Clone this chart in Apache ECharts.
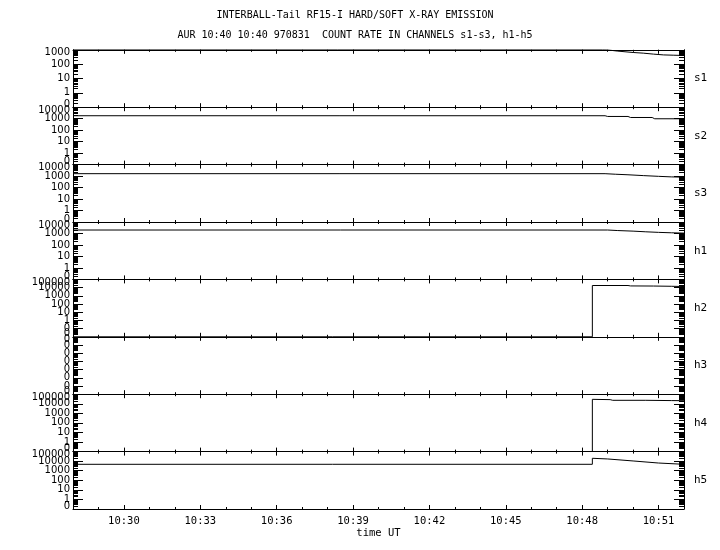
<!DOCTYPE html>
<html>
<head>
<meta charset="utf-8">
<script src="https://cdn.jsdelivr.net/npm/echarts@6/dist/echarts.min.js"></script>
<style>html,body{margin:0;padding:0;background:#fff}#c{width:720px;height:550px}</style>
</head>
<body>
<div id="c"></div>
<script>
// x values are minutes since 00:00 UT
const xMin = 628, xMax = 652;
const xMajorTicks = [630, 633, 636, 639, 642, 645, 648, 651];
const xMajorLabels = ['10:30', '10:33', '10:36', '10:39', '10:42', '10:45', '10:48', '10:51'];
const xMinorTicks = [628,629,630,631,632,633,634,635,636,637,638,639,640,641,642,643,644,645,646,647,648,649,650,651,652];

const channels = ['s1', 's2', 's3', 'h1', 'h2', 'h3', 'h4', 'h5'];

// y-axis decade ticks per channel
const s1Ticks = [0.1, 1, 10, 100, 1000];
const s2Ticks = [0.1, 1, 10, 100, 1000, 10000];
const s3Ticks = [0.1, 1, 10, 100, 1000, 10000];
const h1Ticks = [0.1, 1, 10, 100, 1000, 10000];
const h2Ticks = [0.01, 0.1, 1, 10, 100, 1000, 10000, 100000];
const h3Ticks = [1e-8, 1e-7, 1e-6, 1e-5, 1e-4, 1e-3, 1e-2, 1e-1];
const h4Ticks = [0.1, 1, 10, 100, 1000, 10000, 100000];
const h5Ticks = [0.1, 1, 10, 100, 1000, 10000, 100000];

// count rates [time (min), counts]
const s1Data = [[628, 1000], [648.8, 1000], [649.0, 980], [649.4, 810], [650.0, 650], [650.4, 585], [650.8, 500], [651.2, 440], [651.6, 420], [652, 400]];
const s2Data = [[628, 1800], [648.9, 1800], [649.0, 1560], [649.8, 1560], [649.9, 1270], [650.75, 1270], [650.85, 980], [652, 980]];
const s3Data = [[628, 1620], [648.9, 1620], [649.3, 1450], [649.8, 1300], [650.4, 1100], [651.0, 950], [651.5, 850], [652, 800]];
const h1Data = [[628, 2000], [649.0, 2000], [649.4, 1800], [650.0, 1600], [650.5, 1400], [651.0, 1250], [651.5, 1150], [652, 1080]];
const h2Data = [[628, 0.01], [648.4, 0.01], [648.4, 18000], [649.8, 18000], [649.9, 16000], [650.8, 15500], [651.5, 14500], [652, 13500]];
const h3Data = [];
const h4Data = [[628, 0.1], [648.4, 0.1], [648.4, 29000], [649.1, 27000], [649.2, 23000], [650.5, 23000], [651.5, 21500], [652, 21000]];
const h5Data = [[628, 4700], [648.4, 4700], [648.4, 20000], [649.0, 17000], [650.0, 10500], [651.0, 6400], [652, 4700]];

const tickSets = [s1Ticks, s2Ticks, s3Ticks, h1Ticks, h2Ticks, h3Ticks, h4Ticks, h5Ticks];
const dataSets = [s1Data, s2Data, s3Data, h1Data, h2Data, h3Data, h4Data, h5Data];

const BLACK = '#000';
const TOP0 = 49.8, PH = 57.4;
const mono = 'DejaVu Sans Mono';
const X_PER = 4, Y_PER = 6;

function minorOf(dec) {
  const out = [];
  for (let k = 0; k < dec.length - 1; k++) {
    for (let m = 2; m <= 9; m++) out.push(dec[k] * m);
  }
  return out;
}
function fmtY(v) { return v >= 1 ? String(Math.round(v)) : '0'; }
function fmtX(v) { const i = xMajorTicks.indexOf(Math.round(v)); return i >= 0 ? xMajorLabels[i] : ''; }

const yLabelStyle = { fontFamily: 'DejaVu Sans', fontSize: 10, lineHeight: 6, color: BLACK };

const grids = [], xAxes = [], yAxes = [], series = [];
channels.forEach((ch, i) => {
  grids.push({ left: 73, right: 36, top: TOP0 + i * PH, height: PH, containLabel: false });
  const last = i === channels.length - 1;
  const baseX = { type: 'value', gridIndex: i, min: xMin, max: xMax, splitLine: { show: false },
    axisLine: { show: true, onZero: false, lineStyle: { color: BLACK, width: 1 } } };
  xAxes.push(Object.assign({}, baseX, {
    position: 'bottom',
    axisTick: { show: true, inside: true, length: 4, lineStyle: { color: BLACK }, customValues: xMajorTicks },
    axisLabel: { show: last, customValues: xMajorTicks, formatter: fmtX, margin: 7, hideOverlap: false,
      fontFamily: mono, fontSize: 10.5, color: BLACK },
    name: last ? 'time UT' : '', nameLocation: 'middle', nameGap: 19,
    nameTextStyle: { fontFamily: mono, fontSize: 10.5, color: BLACK }
  }));
  xAxes.push(Object.assign({}, baseX, {
    position: 'bottom', axisLine: { show: false, onZero: false },
    axisTick: { show: true, inside: true, length: 2, lineStyle: { color: BLACK }, customValues: xMinorTicks },
    axisLabel: { show: false }
  }));
  xAxes.push(Object.assign({}, baseX, {
    position: 'top',
    axisTick: { show: true, inside: true, length: 4, lineStyle: { color: BLACK }, customValues: xMajorTicks },
    axisLabel: { show: false }
  }));
  xAxes.push(Object.assign({}, baseX, {
    position: 'top', axisLine: { show: false, onZero: false },
    axisTick: { show: true, inside: true, length: 2, lineStyle: { color: BLACK }, customValues: xMinorTicks },
    axisLabel: { show: false }
  }));

  const dec = tickSets[i];
  const inner = dec.slice(1, dec.length - 1);
  const innerA = inner.filter((v, k) => k % 2 === 0);
  const innerB = inner.filter((v, k) => k % 2 === 1);
  const edges = [dec[0], dec[dec.length - 1]];
  const minors = minorOf(dec);
  const baseY = { type: 'log', logBase: 10, gridIndex: i,
    min: dec[0] * 0.999999, max: dec[dec.length - 1] * 1.000001,
    splitLine: { show: false },
    axisLine: { show: true, onZero: false, lineStyle: { color: BLACK, width: 1 } } };
  const labelOnly = { position: 'left', axisLine: { show: false, onZero: false }, axisTick: { show: false } };
  const lblBase = { show: true, formatter: fmtY, margin: 3, interval: 0,
    showMinLabel: true, showMaxLabel: true, hideOverlap: false };
  // left: major ticks + inner decade labels (every other)
  yAxes.push(Object.assign({}, baseY, {
    position: 'left',
    axisTick: { show: true, inside: true, length: 10, lineStyle: { color: BLACK }, customValues: dec },
    axisLabel: Object.assign({}, lblBase, { customValues: innerA }, yLabelStyle)
  }));
  // left: remaining inner labels
  yAxes.push(Object.assign({}, baseY, labelOnly, {
    axisLabel: Object.assign({}, lblBase, { show: innerB.length > 0, customValues: innerB }, yLabelStyle)
  }));
  // left: edge decade labels
  yAxes.push(Object.assign({}, baseY, labelOnly, {
    axisLabel: Object.assign({}, lblBase, { customValues: edges,
      verticalAlignMinLabel: 'bottom', verticalAlignMaxLabel: 'top' }, yLabelStyle)
  }));
  // left: minor ticks
  yAxes.push(Object.assign({}, baseY, {
    position: 'left', axisLine: { show: false, onZero: false },
    axisTick: { show: true, inside: true, length: 5, lineStyle: { color: BLACK }, customValues: minors },
    axisLabel: { show: false }
  }));
  yAxes.push(Object.assign({}, baseY, {
    position: 'right',
    axisTick: { show: true, inside: true, length: 10, lineStyle: { color: BLACK }, customValues: dec },
    axisLabel: { show: false },
    name: ch, nameLocation: 'middle', nameRotate: 0, nameGap: 10,
    nameTextStyle: { fontFamily: mono, fontSize: 11, color: BLACK, align: 'left', verticalAlign: 'middle' }
  }));
  yAxes.push(Object.assign({}, baseY, {
    position: 'right', axisLine: { show: false, onZero: false },
    axisTick: { show: true, inside: true, length: 5, lineStyle: { color: BLACK }, customValues: minors },
    axisLabel: { show: false }
  }));

  series.push({
    name: ch, type: 'line', xAxisIndex: i * X_PER, yAxisIndex: i * Y_PER,
    data: dataSets[i], showSymbol: false, symbol: 'none', clip: true,
    lineStyle: { color: BLACK, width: 1 }, itemStyle: { color: BLACK }
  });
});

const chart = echarts.init(document.getElementById('c'), null, { renderer: 'canvas' });
chart.setOption({
  backgroundColor: '#fff',
  animation: false,
  graphic: [
    { type: 'text', x: 355, y: 15, style: { text: 'INTERBALL-Tail RF15-I HARD/SOFT X-RAY EMISSION',
      font: '10px "DejaVu Sans Mono"', fill: BLACK, textAlign: 'center', textVerticalAlign: 'middle' } },
    { type: 'text', x: 355, y: 35, style: { text: 'AUR 10:40 10:40 970831  COUNT RATE IN CHANNELS s1-s3, h1-h5',
      font: '10px "DejaVu Sans Mono"', fill: BLACK, textAlign: 'center', textVerticalAlign: 'middle' } }
  ],
  grid: grids,
  xAxis: xAxes,
  yAxis: yAxes,
  series: series
});
</script>
</body>
</html>
